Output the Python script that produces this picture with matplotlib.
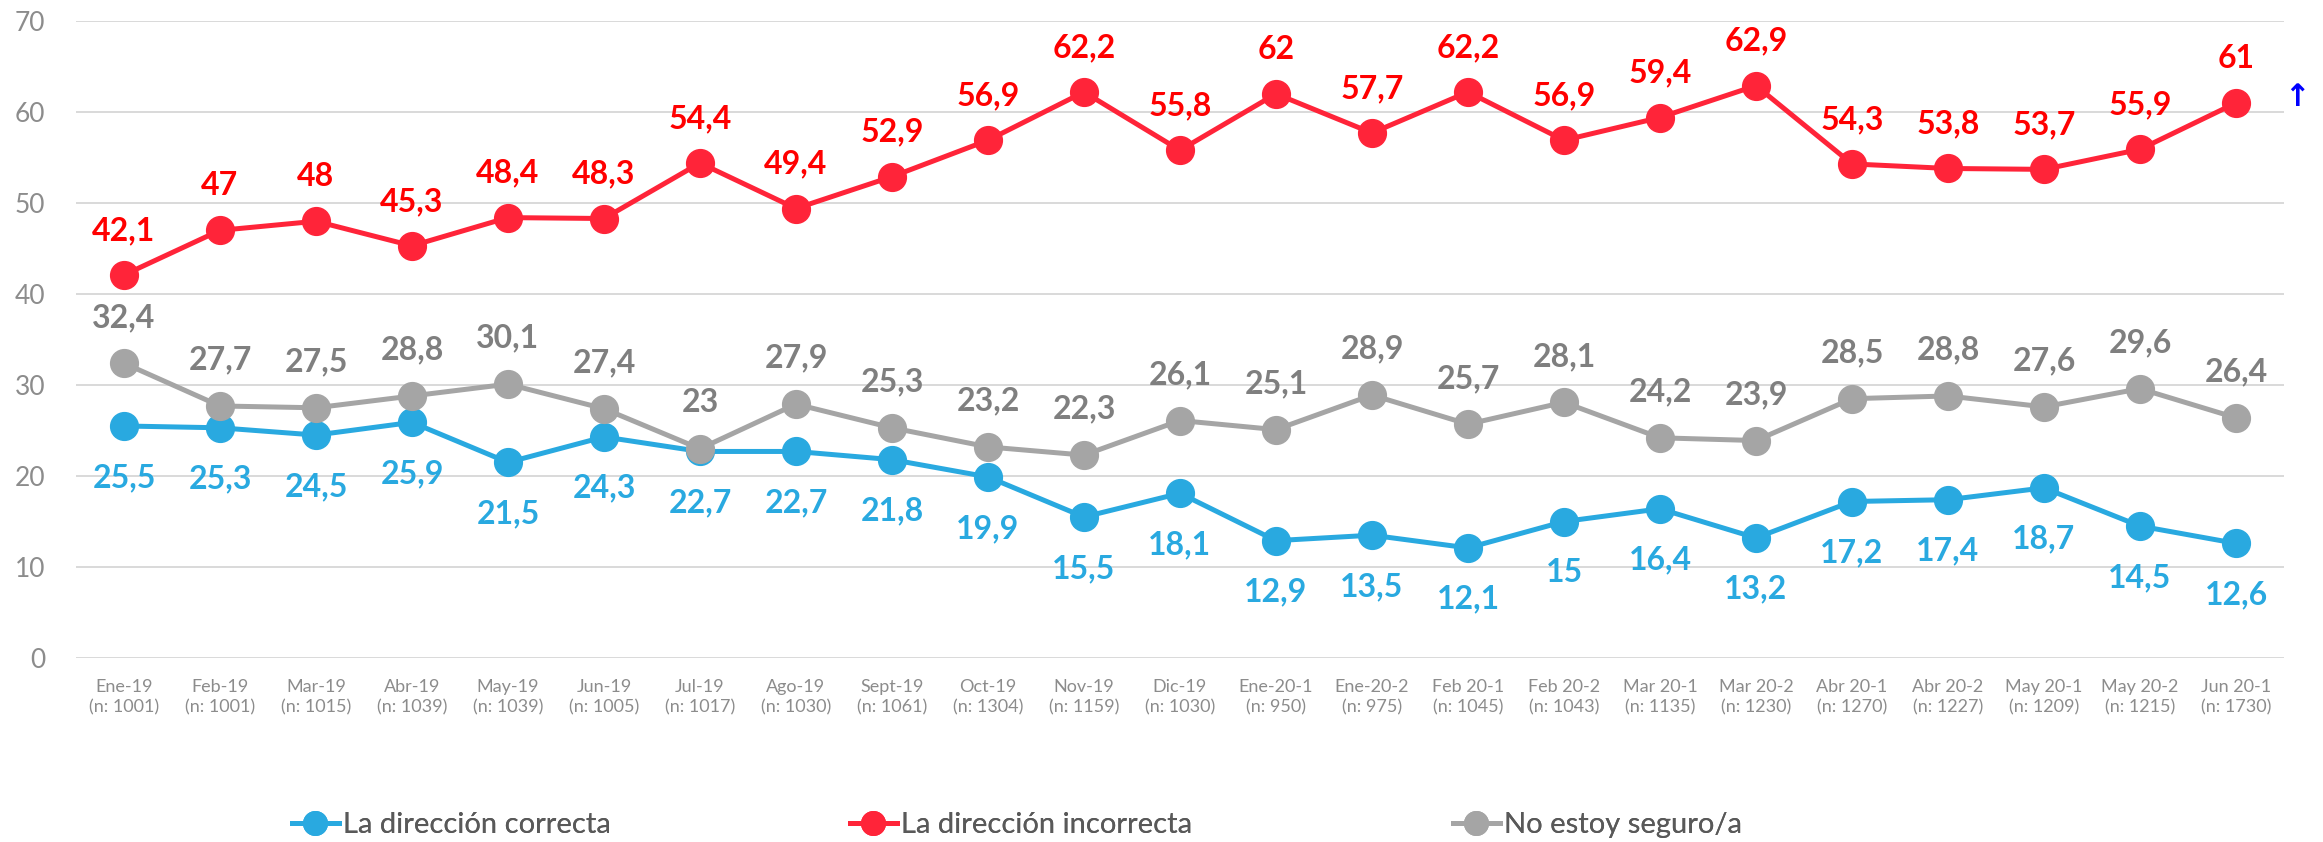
import matplotlib
matplotlib.use("Agg")
import matplotlib.pyplot as plt
from matplotlib.lines import Line2D

plt.rcParams['font.family'] = ['Lato', 'DejaVu Sans']

months = ["Ene-19", "Feb-19", "Mar-19", "Abr-19", "May-19", "Jun-19", "Jul-19", "Ago-19",
          "Sept-19", "Oct-19", "Nov-19", "Dic-19", "Ene-20-1", "Ene-20-2", "Feb 20-1",
          "Feb 20-2", "Mar 20-1", "Mar 20-2", "Abr 20-1", "Abr 20-2", "May 20-1",
          "May 20-2", "Jun 20-1"]
sizes = ["1001", "1001", "1015", "1039", "1039", "1005", "1017", "1030", "1061", "1304",
         "1159", "1030", "950", "975", "1045", "1043", "1135", "1230", "1270", "1227",
         "1209", "1215", "1730"]

correcta = [25.5, 25.3, 24.5, 25.9, 21.5, 24.3, 22.7, 22.7, 21.8, 19.9, 15.5, 18.1,
            12.9, 13.5, 12.1, 15, 16.4, 13.2, 17.2, 17.4, 18.7, 14.5, 12.6]
incorrecta = [42.1, 47, 48, 45.3, 48.4, 48.3, 54.4, 49.4, 52.9, 56.9, 62.2, 55.8,
              62, 57.7, 62.2, 56.9, 59.4, 62.9, 54.3, 53.8, 53.7, 55.9, 61]
noseguro = [32.4, 27.7, 27.5, 28.8, 30.1, 27.4, 23, 27.9, 25.3, 23.2, 22.3, 26.1,
            25.1, 28.9, 25.7, 28.1, 24.2, 23.9, 28.5, 28.8, 27.6, 29.6, 26.4]

series_names = ["La dirección correcta", "La dirección incorrecta", "No estoy seguro/a"]

BLUE = "#29A9E0"
RED = "#FF2439"
GRAY = "#A5A5A5"

fig = plt.figure(figsize=(23.23, 8.42), dpi=100)
ax = fig.add_axes([0.0327, 0.2185, 0.9505, 0.7565])

x = list(range(len(months)))

def fmt(v):
    return ("%g" % v).replace(".", ",")

specs = [
    (correcta, BLUE, BLUE, -37),
    (incorrecta, RED, "#FF0000", 32),
    (noseguro, GRAY, "#7F7F7F", 33),
]
handles = []
for (vals, col, lcol, off), name in zip(specs, series_names):
    ax.plot(x, vals, color=col, lw=3.6, marker='o', ms=20, zorder=3)
    for xi, v in zip(x, vals):
        ax.annotate(fmt(v), (xi, v), xytext=(0, off), textcoords='offset points',
                    ha='center', va='center', fontsize=23, fontweight='bold',
                    color=lcol, zorder=4)
    handles.append(Line2D([0], [0], color=col, lw=3.6, marker='o', ms=17, label=name))

ax.set_xlim(-0.5, len(months) - 0.5)
ax.set_ylim(0, 70)
ax.set_yticks(range(0, 71, 10))
ax.yaxis.grid(True, color="#D9D9D9", lw=1.4)
ax.set_axisbelow(True)
for s in ax.spines.values():
    s.set_visible(False)
ax.tick_params(axis='y', length=0, pad=22, labelsize=19, labelcolor="#8C8C8C")
ax.set_xticks(x)
ax.set_xticklabels([f"{m}\n(n: {n})" for m, n in zip(months, sizes)],
                   fontsize=13, color="#8C8C8C", linespacing=1.35)
ax.tick_params(axis='x', length=0, pad=15)

fig.text(2297 / 2323, 1 - 97 / 842, "↑", color="#0000FF", fontsize=22,
         fontweight='bold', ha='center', va='center', family=['DejaVu Sans'])

leg_left = [292, 850, 1453]
for h, lx in zip(handles, leg_left):
    lg = fig.legend(handles=[h], loc='center left',
                    bbox_to_anchor=(lx / 2323, 1 - 825 / 842),
                    frameon=False, fontsize=21, handlelength=1.6,
                    handletextpad=0.15, borderpad=0, borderaxespad=0,
                    labelcolor="#595959")
    fig.add_artist(lg)

fig.savefig("out.png", dpi=100)
